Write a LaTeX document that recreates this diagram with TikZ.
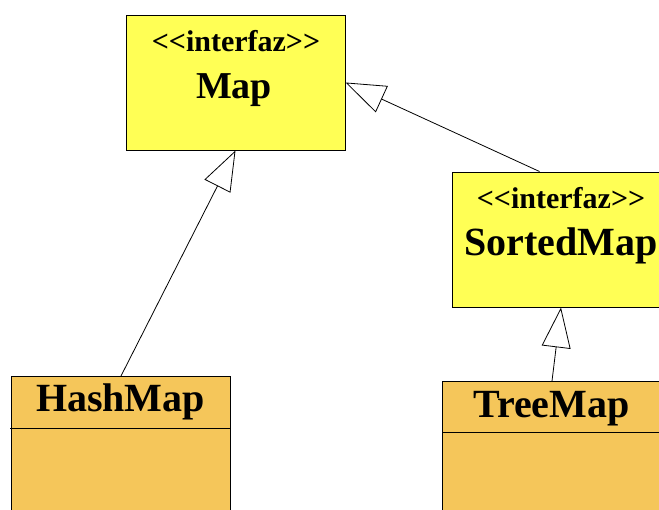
\documentclass[tikz,border=0pt]{standalone}
\usepackage{fontspec}
\setmainfont{Liberation Serif}[Ligatures=TeXOff]
\usetikzlibrary{arrows.meta,calc}
\definecolor{ifyellow}{RGB}{255,255,85}
\definecolor{clorange}{RGB}{245,198,90}
\tikzset{
  ifbox/.style={draw=black,line width=1pt,fill=ifyellow,rectangle,inner sep=0pt,minimum width=219pt,minimum height=135pt},
  clbox/.style={draw=black,line width=1pt,fill=clorange,rectangle,inner sep=0pt,minimum width=219pt,minimum height=150pt},
  stereo/.style={anchor=base,inner sep=0pt,font=\bfseries\fontsize{30}{36}\selectfont},
  cname/.style={anchor=base,inner sep=0pt,font=\bfseries\fontsize{40}{48}\selectfont},
  inherit/.style={draw=black,line width=0.8pt,-{Triangle[open,length=40pt,width=29pt,line width=0.8pt]}}
}
\begin{document}
\begin{tikzpicture}[x=1pt,y=-1pt]
\useasboundingbox (0,0) rectangle (659,509);
\clip (0,0) rectangle (659,509);
% Map interface
\node[ifbox] (map) at (235.5,82.5) {};
\node[stereo] (mapst) at (236,51) {<<interfaz>>};
\node[cname,font=\bfseries\fontsize{38}{46}\selectfont] (mapname) at (234,98) {Map};
% SortedMap interface
\node[ifbox,minimum width=218pt] (sorted) at (561,239.5) {};
\node[stereo] (sortedst) at (561,208) {<<interfaz>>};
\node[cname] (sortedname) at (561,255) {SortedMap};
% HashMap class
\node[clbox,anchor=north west] (hash) at (11,376) {};
\draw[line width=1pt] (10,428) coordinate (hdl) -- (hash.east |- hdl) coordinate (hdr);
\node[cname] (hashname) at (120.5,411) {HashMap};
% TreeMap class
\node[clbox,anchor=north west] (tree) at (442,381) {};
\draw[line width=1pt] (tree.west |- 0,432) coordinate (tdl) -- (tree.east |- tdl) coordinate (tdr);
\node[cname] (treename) at (551.5,417) {TreeMap};
% inheritance
\coordinate (sortedtop) at ($(sorted.north west)+(88,0)$);
\draw[inherit] (hash.north) -- (map.south);
\draw[inherit] (sortedtop) -- (map.east);
\draw[inherit] (tree.north) -- (sorted.south);
\end{tikzpicture}
\end{document}
